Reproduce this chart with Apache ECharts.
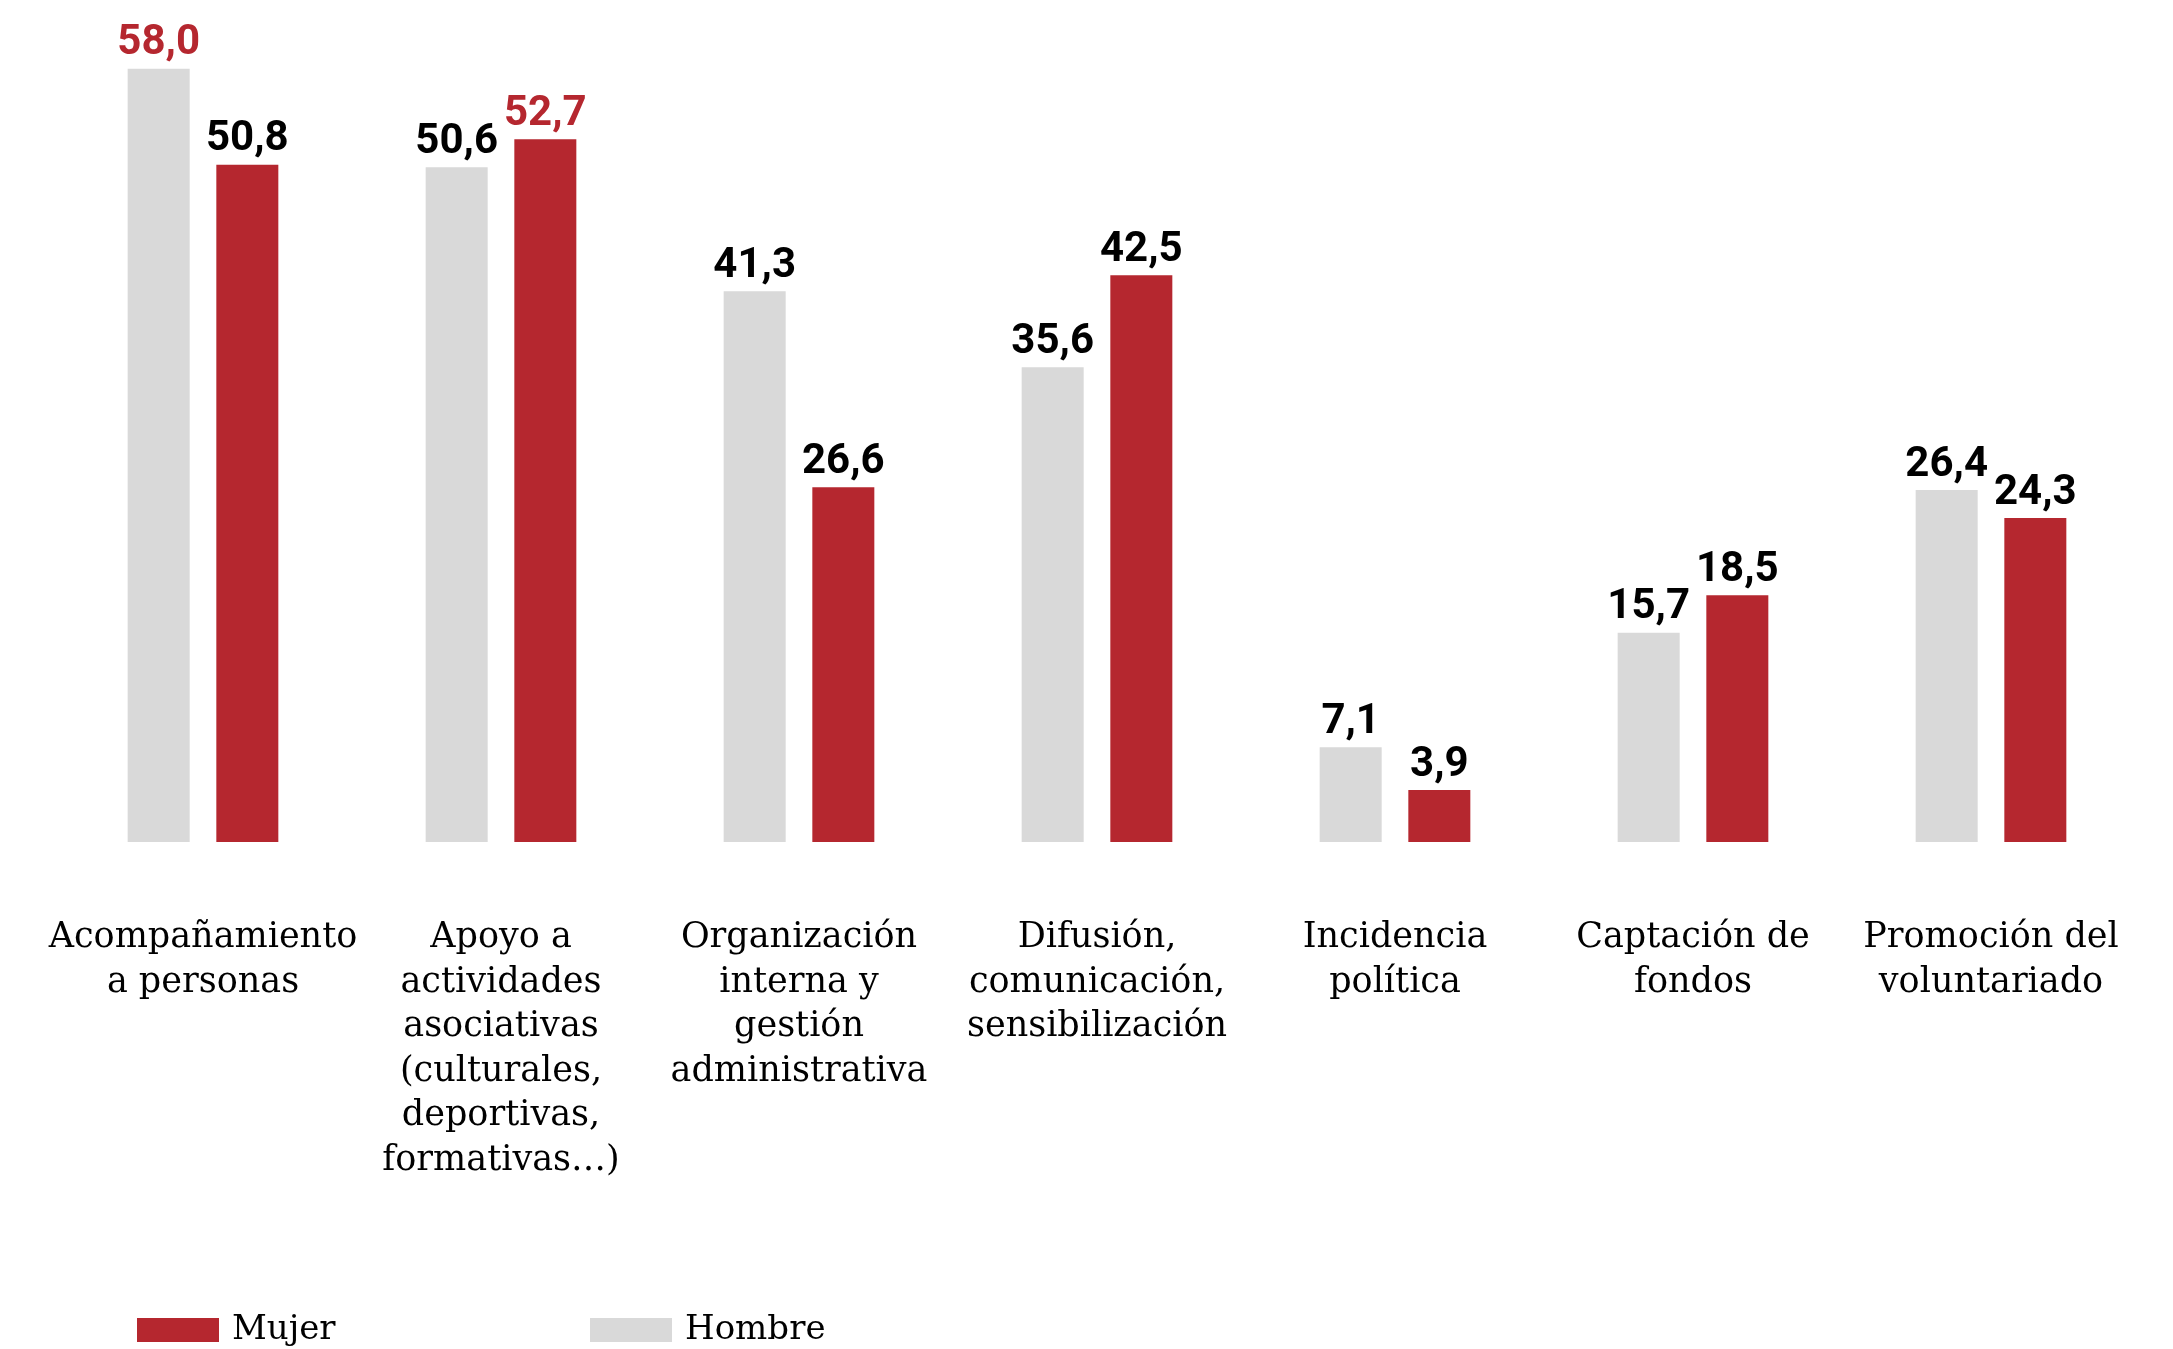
<!DOCTYPE html>
<html>
<head>
<meta charset="utf-8">
<script src="https://cdn.jsdelivr.net/npm/echarts@6/dist/echarts.min.js"></script>
<style>
html,body{margin:0;padding:0;background:#fff;}
#chart{width:2173px;height:1349px;}
</style>
</head>
<body>
<div id="chart"></div>
<script>
const categories = [
  "Acompañamiento\na personas",
  "Apoyo a\nactividades\nasociativas\n(culturales,\ndeportivas,\nformativas…)",
  "Organización\ninterna y\ngestión\nadministrativa",
  "Difusión,\ncomunicación,\nsensibilización",
  "Incidencia\npolítica",
  "Captación de\nfondos",
  "Promoción del\nvoluntariado"
];
const hombre = [58.0, 50.6, 41.3, 35.6, 7.1, 15.7, 26.4];
const mujer  = [50.8, 52.7, 26.6, 42.5, 3.9, 18.5, 24.3];

const RED = '#b5272f';
const GREY = '#d9d9d9';
const fmt = v => v.toFixed(1).replace('.', ',');
function items(arr) {
  const mx = Math.max(...arr);
  return arr.map(v => ({ value: v, label: { color: v === mx ? RED : '#000' } }));
}

const chart = echarts.init(document.getElementById('chart'));
const labelStyle = {
  show: true,
  position: 'top',
  distance: 4,
  fontFamily: 'Roboto',
  fontWeight: 'bold',
  fontSize: 42,
  formatter: p => fmt(p.value)
};
const legendText = { fontFamily: 'DejaVu Serif', fontSize: 34, color: '#000', padding: [0, 0, 0, 8] };
chart.setOption({
  animation: false,
  backgroundColor: '#fff',
  grid: { left: 54, right: 33, top: 42, bottom: 507, containLabel: false },
  legend: [
    { data: ['Mujer'], left: 132, top: 1308, itemWidth: 82, itemHeight: 24, itemGap: 12,
      textStyle: legendText, icon: 'rect' },
    { data: ['Hombre'], left: 585, top: 1308, itemWidth: 82, itemHeight: 24, itemGap: 12,
      textStyle: legendText, icon: 'rect' }
  ],
  xAxis: {
    type: 'category',
    data: categories,
    axisLine: { show: false },
    axisTick: { show: false },
    axisLabel: {
      interval: 0,
      margin: 74,
      fontFamily: 'DejaVu Serif',
      fontSize: 35,
      lineHeight: 44.5,
      color: '#000',
      verticalAlign: 'top',
      align: 'center'
    }
  },
  yAxis: {
    type: 'value',
    min: 0,
    max: 60,
    show: false,
    splitLine: { show: false }
  },
  series: [
    { name: 'Hombre', type: 'bar', data: items(hombre), barWidth: 62, barGap: '43%',
      itemStyle: { color: GREY }, label: labelStyle },
    { name: 'Mujer', type: 'bar', data: items(mujer), barWidth: 62, barGap: '43%',
      itemStyle: { color: RED }, label: labelStyle }
  ]
});
</script>
</body>
</html>
